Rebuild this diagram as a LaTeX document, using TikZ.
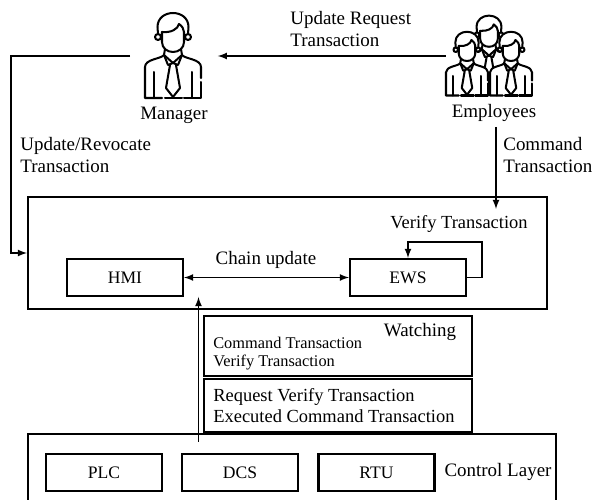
\documentclass[tikz,border=0pt]{standalone}
\usepackage{fontspec}
\setmainfont{Liberation Serif}
\usetikzlibrary{positioning,arrows}
\tikzset{
  box/.style={draw=black,line width=1.2pt,align=center},
  smallbox/.style={box,minimum width=2.32cm,minimum height=0.74cm},
  label/.style={align=left,font=\fontsize{10.8}{12}\selectfont},
  midlabel/.style={align=left,font=\fontsize{10.5}{12}\selectfont},
  smalllabel/.style={align=left,font=\fontsize{9.3}{10.2}\selectfont},
  link/.style={black,line width=0.8pt,>=latex},
  icon/.style={minimum width=1.74cm,minimum height=1.7cm},
  person/.pic={
    \begin{scope}[line width=1.15pt,line join=round,line cap=round]
    \fill [white] (-28,-42) -- (-28,-11) .. controls (-28,-3) and (-12,-3) .. (-9,1) -- (-9,7) -- (-16,20) -- (-16,29) .. controls (-16,38) and (-8,43) .. (0,43) .. controls (8,43) and (16,38) .. (16,29) -- (16,20) -- (9,7) -- (9,1) .. controls (12,-3) and (28,-3) .. (28,-11) -- (28,-42) -- cycle;
    \draw (-15,19) circle (3);
    \draw (15,19) circle (3);
    \fill [white] (-12,24) rectangle (12,10);
    \draw (-15,22) -- (-15.5,29) .. controls (-15.5,38) and (-8,43) .. (0,43) .. controls (8,43) and (15.5,38) .. (15.5,29) -- (15,22);
    \draw (-11,24) -- (-11,14) .. controls (-11,8) and (-6,4) .. (0,4) .. controls (6,4) and (11,8) .. (11,14) -- (11,24);
    \draw (-11,24) .. controls (-2,23) and (5,27) .. (6,32) .. controls (9,30) and (11,27) .. (11,24);
    \draw (-8,7) -- (-9,1) -- (0,-7) -- (9,1) -- (8,7);
    \draw (-9,1) -- (-5,-9) -- (0,-7) -- (5,-9) -- (9,1);
    \draw (-3,-9) -- (-7,-32) -- (0,-41) -- (7,-32) -- (3,-9);
    \draw (-9,1) .. controls (-12,-3) and (-28,-3) .. (-28,-11) -- (-28,-42) -- (-11,-42);
    \draw (-8,-42) -- (9,-42);
    \draw (11,-42) -- (28,-42) -- (28,-26);
    \draw (28,-22) -- (28,-11) .. controls (28,-3) and (12,-3) .. (9,1);
    \draw (-19,-16) -- (-19,-42);
    \draw (19,-16) -- (19,-42);
    \end{scope}
  }
}

\begin{document}
\begin{tikzpicture}[x=0.02cm,y=0.02cm]
\tikzstyle{every node}+=[inner sep=0pt]
\useasboundingbox (0,0) rectangle (600,-500);
\clip (0,0) rectangle (600,-500);
\draw (174,-56) node [icon] (manager) {};
\draw (489.5,-56) node [icon] (employees) {};
\pic at (173,-56) {person};
\pic [scale=0.8] at (489,-50) {person};
\pic [scale=0.75] at (467,-64) {person};
\pic [scale=0.75] at (511,-64) {person};
\draw (174,-115) node [label] (managerlabel) {Manager};
\draw (494,-113) node [label] (employeeslabel) {Employees};
\draw (290,-29) node [label,anchor=west] (requestlabel) {Update Request\\Transaction};
\draw (20,-155) node [label,anchor=west] (revocatelabel) {Update/Revocate\\Transaction};
\draw (503,-155) node [label,anchor=west] (commandlabel) {Command\\Transaction};
\draw (287.5,-253) node [box,minimum width=10.38cm,minimum height=2.24cm] (chain) {};
\draw (125,-277.5) node [smallbox] (hmi) {HMI};
\draw (408,-277.5) node [smallbox] (ews) {EWS};
\draw (459,-224) node [midlabel] (verifylabel) {Verify Transaction};
\draw (266,-260) node [label] (updatelabel) {Chain update};
\draw (338,-346) node [box,minimum width=5.36cm,minimum height=1.2cm] (watching) {};
\draw (338,-405.5) node [box,minimum width=5.36cm,minimum height=1.06cm] (executed) {};
\draw (420,-332) node [label] (watchinglabel) {Watching};
\draw (213,-354) node [smalllabel,anchor=west] (watchedlabel) {Command Transaction\\Verify Transaction};
\draw (213,-406) node [midlabel,anchor=west] (executedlabel) {Request Verify Transaction\\Executed Command Transaction};
\draw (292,-484) node [box,minimum width=10.56cm,minimum height=2cm] (control) {};
\draw (104,-472.5) node [smallbox] (plc) {PLC};
\draw (240,-472.5) node [smallbox] (dcs) {DCS};
\draw (376.5,-472.5) node [smallbox] (rtu) {RTU};
\draw (498,-472) node [label] (controllabel) {Control Layer};
\coordinate (leftbend) at (11,-150);
\coordinate (loopcorner) at (482,-242);
\coordinate (commandstart) at (496,-127);
\coordinate (commandend) at (496,-209);
\coordinate (controlstart) at (198.5,-442);
\coordinate (controlend) at (198.5,-297);
\draw [link,->] (employees.west) -- (manager.east);
\draw [link,->] (manager.west) -| (leftbend) |- (chain.west);
\draw [link,->] (commandstart) -- (commandend);
\draw [link,<->] (hmi.east) -- (ews.west);
\draw [link,->] (ews.east) -| (loopcorner) -| (ews.north);
\draw [link,->] (controlstart) -- (controlend);
\end{tikzpicture}
\end{document}
